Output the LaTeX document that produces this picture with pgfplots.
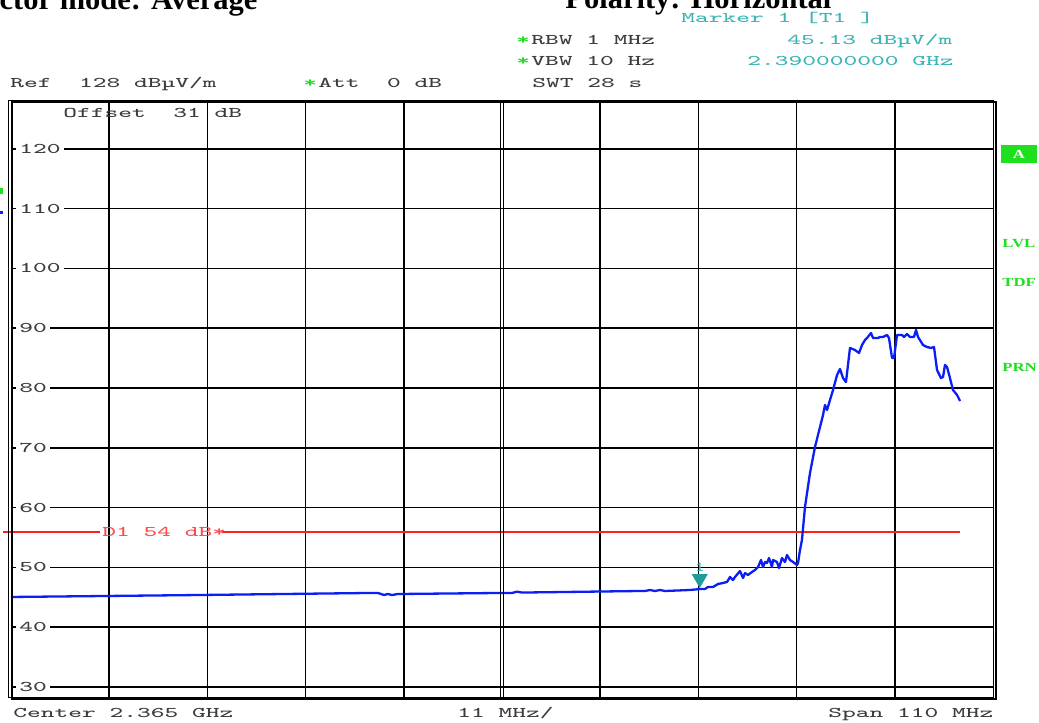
\documentclass[border=0pt]{standalone}
\usepackage{fontspec}
\usepackage{pgfplots}
\pgfplotsset{compat=1.18}
\newfontfamily\serifb{Liberation Serif}
\definecolor{tracecol}{HTML}{0A1EF5}
\definecolor{limitred}{HTML}{FF2020}
\definecolor{limittxt}{HTML}{FF4A4A}
\definecolor{mkteal}{HTML}{3BB5B5}
\definecolor{mktri}{HTML}{1E9C9C}
\definecolor{rsgreen}{HTML}{1EE01E}
\definecolor{txtgray}{HTML}{3C3C3C}
\newcommand\rs[1]{\scalebox{1.75}[1]{\ttfamily\fontsize{7.4}{8}\selectfont #1}}
\newcommand\rsb[1]{\scalebox{1.35}[1]{\serifb\bfseries\fontsize{6.2}{7}\selectfont #1}}
\begin{document}
\begin{tikzpicture}
\useasboundingbox (0,0) rectangle (519.5pt,361.5pt);
\clip (0,0) rectangle (519.5pt,361.5pt);
\fill[white] (0,0) rectangle (519.5pt,361.5pt);
\begin{axis}[
  at={(5.5pt,12pt)}, anchor=south west,
  scale only axis, width=491pt, height=299pt,
  xmin=2310, xmax=2420, ymin=28, ymax=128,
  axis line style={draw=none},
  xtick={2321,2332,2343,2354,2376,2387,2398,2409},
  xticklabels={},
  ytick={30,40,50,60,70,80,90,100,110,120},
  yticklabels={\rs{30},\rs{40},\rs{50},\rs{60},\rs{70},\rs{80},\rs{90},\rs{100},\rs{110},\rs{120}},
  major tick length=0pt,
  grid=major, major grid style={black, line width=0.75pt},
  yticklabel style={anchor=west, xshift=2.5pt, fill=white, inner xsep=1.5pt, inner ysep=0.5pt, text=txtgray},
  clip=false,
]
% display line D1
\addplot[draw=limitred, line width=1pt, mark=none] coordinates {(2309.1,56) (2319.97,56)};
\addplot[draw=limitred, line width=1pt, mark=none] coordinates {(2333.63,56) (2416.3,56)};
\node[anchor=west, inner sep=0pt, text=limittxt] at (axis cs:2320.19,56) {\rs{D1~54~dB*}};
% trace
\addplot[draw=tracecol, line width=1.15pt, line join=round, mark=none] coordinates {
(2310.00,45.06) (2331.17,45.39) (2350.21,45.73) (2351.11,45.73) (2351.78,45.39)
(2352.22,45.56) (2352.68,45.39) (2353.35,45.56) (2353.57,45.56) (2364.78,45.73)
(2366.12,45.73) (2366.68,45.95) (2367.24,45.80) (2380.46,46.06) (2381.02,46.06)
(2381.58,46.23) (2382.14,46.06) (2382.70,46.23) (2383.26,46.06) (2386.06,46.23)
(2387.18,46.39) (2387.74,46.39) (2388.08,46.73) (2388.64,46.73) (2389.20,47.23)
(2389.76,47.40) (2390.21,47.57) (2390.54,48.40) (2390.88,47.90) (2391.10,48.40)
(2391.66,49.40) (2392.00,48.23) (2392.22,49.07) (2392.56,48.74) (2393.00,49.24)
(2393.34,49.57) (2393.68,50.07) (2394.01,51.24) (2394.24,50.07) (2394.46,50.91)
(2394.68,50.74) (2394.91,51.58) (2395.24,50.07) (2395.36,51.24) (2395.80,50.91)
(2396.03,49.91) (2396.36,51.58) (2396.70,50.91) (2396.92,52.08) (2397.26,51.24)
(2397.60,50.91) (2398.04,50.41) (2398.16,50.74) (2398.38,52.92) (2398.60,54.59)
(2398.94,60.11) (2399.50,65.79) (2400.06,70.14) (2400.62,73.48) (2400.96,75.49)
(2401.18,77.16) (2401.41,76.33) (2401.74,78.00) (2402.08,79.67) (2402.53,82.18)
(2402.86,83.18) (2403.20,81.68) (2403.53,81.01) (2403.65,82.52) (2403.98,86.70)
(2404.54,86.36) (2404.99,85.86) (2405.33,87.20) (2405.66,88.03) (2405.89,88.37)
(2406.33,89.20) (2406.56,88.37) (2407.12,88.37) (2407.34,88.54) (2407.68,88.54)
(2408.13,88.87) (2408.35,88.37) (2408.69,85.02) (2408.91,85.02) (2409.25,88.87)
(2409.81,88.87) (2410.03,88.54) (2410.37,89.04) (2410.71,88.54) (2411.15,88.54)
(2411.38,89.71) (2411.60,88.54) (2412.16,87.20) (2412.61,86.86) (2413.05,86.70)
(2413.39,86.86) (2413.73,83.02) (2414.17,81.68) (2414.40,81.85) (2414.62,83.85)
(2414.85,83.52) (2415.18,81.68) (2415.52,79.67) (2415.97,78.84) (2416.31,77.83)
};
% marker 1
\addplot[only marks, mark=triangle*, mark size=4.2pt, mark options={rotate=180, fill=mktri, draw=mktri}] coordinates {(2387.15,48.1)};
\node[anchor=base, inner sep=0pt, text=mkteal] at (axis cs:2387.15,49.3) {\scalebox{1.3}[1]{\ttfamily\fontsize{7}{8}\selectfont 1}};
\end{axis}
\begin{scope}[x=0.5pt,y=0.5pt, every node/.style={inner sep=0pt, anchor=base west}]
% frames
\draw[black, line width=0.6pt] (8.5,622.5) rectangle (993.5,25.8);
\draw[black, line width=1pt] (11.5,620.5) rectangle (995.8,23.5);
\draw[black, line width=0.6pt] (500.5,622) -- (500.5,24);
\draw[black, line width=0.6pt] (503.5,622) -- (503.5,24);
% titles (cut at top)
\node at (-60,713) {\serifb\bfseries\fontsize{15.25}{16}\selectfont Detector mode: Average};
\node at (565,714) {\serifb\bfseries\fontsize{15.25}{16}\selectfont Polarity: Horizontal};
% marker info
\node[text=mkteal] at (681,700.3) {\rs{Marker~1~[T1~]}};
\node[text=mkteal] at (787,678) {\rs{45.13~dBµV/m}};
\node[text=mkteal] at (747,657) {\rs{2.390000000~GHz}};
% settings
\node[text=rsgreen] at (516,678) {\rs{\bfseries *}};
\node[text=txtgray] at (531,678) {\rs{RBW~1~MHz}};
\node[text=rsgreen] at (516,657) {\rs{\bfseries *}};
\node[text=txtgray] at (531,657) {\rs{VBW~10~Hz}};
\node[text=txtgray] at (532,635) {\rs{SWT~28~s}};
\node[text=txtgray] at (10,635) {\rs{Ref~~128~dBµV/m}};
\node[text=rsgreen] at (303,635) {\rs{\bfseries *}};
\node[text=txtgray] at (318,635) {\rs{Att~~0~dB}};
\node[text=txtgray] at (63,605) {\rs{Offset~~31~dB}};
% bottom
\node[text=txtgray] at (13,5) {\rs{Center~2.365~GHz}};
\node[text=txtgray] at (457,5) {\rs{11~MHz/}};
\node[text=txtgray] at (828,5) {\rs{Span~110~MHz}};
% right side
\fill[rsgreen] (1001,560) rectangle (1037,578);
\node[anchor=center, text=white] at (1019,569) {\rsb{A}};
\node[text=rsgreen] at (1002,475) {\rsb{LVL}};
\node[text=rsgreen] at (1002,436) {\rsb{TDF}};
\node[text=rsgreen] at (1002,351) {\rsb{PRN}};
% left edge fragments
\fill[rsgreen] (0,529) rectangle (3,535);
\fill[tracecol] (0,509) rectangle (3,512);
\end{scope}
\end{tikzpicture}
\end{document}
